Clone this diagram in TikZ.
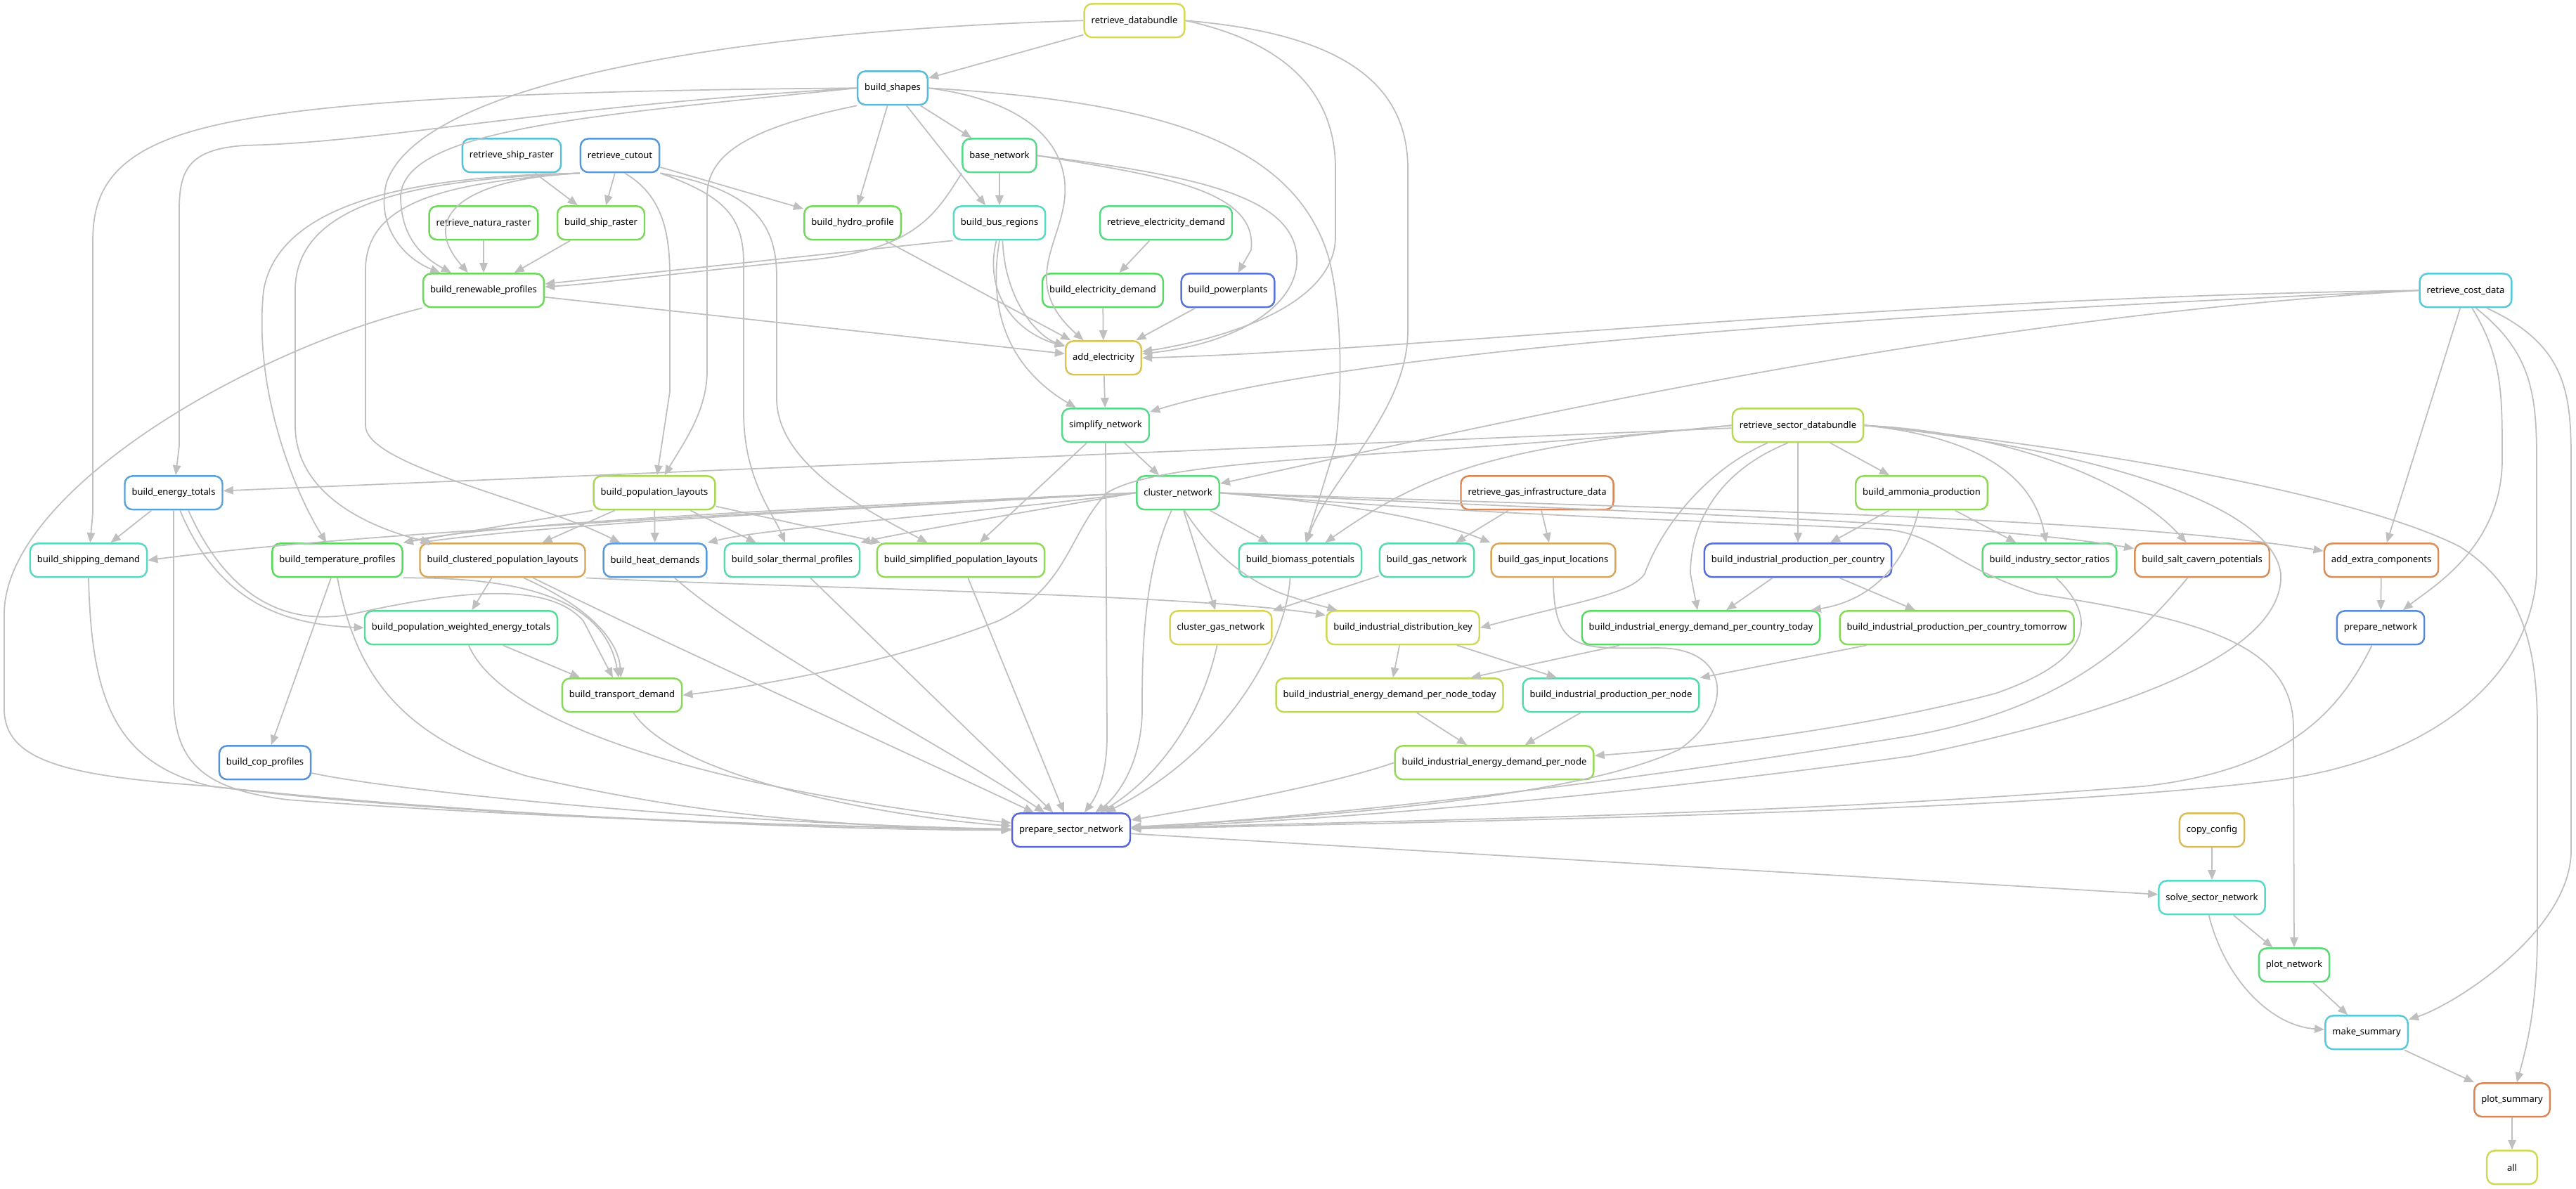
\documentclass[tikz,border=0pt]{standalone}
\usepackage{fontspec}
\usepackage{tikz}
\usetikzlibrary{arrows.meta}
\newfontfamily\rulefont{Noto Sans}

\begin{document}
\begin{tikzpicture}[x=2cm, y=-1.92cm,
  rulebox/.style={/utils/exec={\convertcolorspec{hsb}{#1,0.6,0.85}{rgb}\rulergb
      \definecolor{rulecol}{rgb}{\rulergb}},
    draw=rulecol, line width=1.4pt, rounded corners=0.22cm,
    minimum height=0.954cm, minimum width=1.434cm, inner xsep=0.2cm, inner ysep=0pt,
    font=\rulefont\fontsize{7.4}{9}\selectfont},
  dep/.style={draw=black!25, line width=1pt, -{Triangle[length=8pt,width=6.5pt]}}]
\useasboundingbox (0,-0.305) rectangle (36.65,17.31);

% rank 0 - 1
\node[rulebox=0.17] (rdb) at (16.14,0) {retrieve\_databundle};
\node[rulebox=0.54] (shapes) at (12.70,1) {build\_shapes};
% rank 2
\node[rulebox=0.53] (rship) at (7.28,2) {retrieve\_ship\_raster};
\node[rulebox=0.58] (cutout) at (8.82,2) {retrieve\_cutout};
\node[rulebox=0.40] (base) at (14.22,2) {base\_network};
% rank 3
\node[rulebox=0.31] (natura) at (6.88,3) {retrieve\_natura\_raster};
\node[rulebox=0.29] (shipr) at (8.55,3) {build\_ship\_raster};
\node[rulebox=0.30] (hydro) at (12.13,3) {build\_hydro\_profile};
\node[rulebox=0.47] (busreg) at (14.22,3) {build\_bus\_regions};
\node[rulebox=0.39] (relec) at (16.59,3) {retrieve\_electricity\_demand};
% rank 4
\node[rulebox=0.31] (renew) at (6.88,4) {build\_renewable\_profiles};
\node[rulebox=0.35] (elecd) at (15.69,4) {build\_electricity\_demand};
\node[rulebox=0.63] (ppl) at (17.47,4) {build\_powerplants};
\node[rulebox=0.52] (cost) at (35.08,4) {retrieve\_cost\_data};
% rank 5 - 6
\node[rulebox=0.14] (addel) at (15.70,5) {add\_electricity};
\node[rulebox=0.40] (simpl) at (15.73,6) {simplify\_network};
\node[rulebox=0.21] (rsec) at (25.58,6) {retrieve\_sector\_databundle};
% rank 7
\node[rulebox=0.57] (etot) at (2.47,7) {build\_energy\_totals};
\node[rulebox=0.23] (poplay) at (9.31,7) {build\_population\_layouts};
\node[rulebox=0.38] (clust) at (16.76,7) {cluster\_network};
\node[rulebox=0.06] (rgas) at (21.87,7) {retrieve\_gas\_infrastructure\_data};
\node[rulebox=0.26] (ammonia) at (27.34,7) {build\_ammonia\_production};
% rank 8
\node[rulebox=0.47] (shipd) at (1.26,8) {build\_shipping\_demand};
\node[rulebox=0.34] (temp) at (4.80,8) {build\_temperature\_profiles};
\node[rulebox=0.10] (clpop) at (7.15,8) {build\_clustered\_population\_layouts};
\node[rulebox=0.58] (heat) at (9.32,8) {build\_heat\_demands};
\node[rulebox=0.44] (solar) at (11.27,8) {build\_solar\_thermal\_profiles};
\node[rulebox=0.26] (sipop) at (13.67,8) {build\_simplified\_population\_layouts};
\node[rulebox=0.45] (biomass) at (18.50,8) {build\_biomass\_potentials};
\node[rulebox=0.44] (gasnet) at (20.30,8) {build\_gas\_network};
\node[rulebox=0.10] (gasin) at (22.10,8) {build\_gas\_input\_locations};
\node[rulebox=0.64] (ipc) at (25.58,8) {build\_industrial\_production\_per\_country};
\node[rulebox=0.38] (ratios) at (29.16,8) {build\_industry\_sector\_ratios};
\node[rulebox=0.07] (salt) at (31.33,8) {build\_salt\_cavern\_potentials};
\node[rulebox=0.07] (extra) at (33.88,8) {add\_extra\_components};
% rank 9
\node[rulebox=0.42] (pwet) at (6.56,9) {build\_population\_weighted\_energy\_totals};
\node[rulebox=0.16] (clgas) at (17.37,9) {cluster\_gas\_network};
\node[rulebox=0.18] (idk) at (19.96,9) {build\_industrial\_distribution\_key};
\node[rulebox=0.35] (iedct) at (24.20,9) {build\_industrial\_energy\_demand\_per\_country\_today};
\node[rulebox=0.27] (ipct) at (27.84,9) {build\_industrial\_production\_per\_country\_tomorrow};
\node[rulebox=0.60] (prepn) at (33.87,9) {prepare\_network};
% rank 10 - 11
\node[rulebox=0.27] (transp) at (8.85,10) {build\_transport\_demand};
\node[rulebox=0.20] (iednt) at (19.77,10) {build\_industrial\_energy\_demand\_per\_node\_today};
\node[rulebox=0.44] (ipn) at (22.92,10) {build\_industrial\_production\_per\_node};
\node[rulebox=0.59] (cop) at (3.77,11) {build\_cop\_profiles};
\node[rulebox=0.25] (iedn) at (21.26,11) {build\_industrial\_energy\_demand\_per\_node};
% rank 12 - 17
\node[rulebox=0.65] (psn) at (15.24,12) {prepare\_sector\_network};
\node[rulebox=0.13] (copy) at (31.47,12) {copy\_config};
\node[rulebox=0.48] (solve) at (31.47,13) {solve\_sector\_network};
\node[rulebox=0.37] (plotn) at (32.64,14) {plot\_network};
\node[rulebox=0.52] (summ) at (33.67,15) {make\_summary};
\node[rulebox=0.06] (plots) at (35.74,16) {plot\_summary};
\node[rulebox=0.18] (all) at (35.74,17) {all};

% databundle
\draw[dep] (rdb) -- (shapes);
\draw[dep] (rdb.west) .. controls (10.5,0.15) and (6.0,0.9) .. (5.5,2.4) .. controls (5.35,3.0) and (5.7,3.5) .. (renew);
\draw[dep] (rdb.east) .. controls (18.2,0.3) and (19.0,1.0) .. (19.0,2.2) -- (19.0,3.2) .. controls (19.0,4.2) and (17.5,4.7) .. (addel);
\draw[dep] (rdb.east) .. controls (19.2,0.2) and (20.03,1.0) .. (20.03,2.2) -- (20.03,4.6) .. controls (20.03,5.8) and (18.9,6.8) .. (biomass);

% shapes
\draw[dep] (shapes) -- (base);
\draw[dep] (shapes) -- (hydro);
\draw[dep] (shapes) -- (busreg);
\draw[dep] (shapes.west) .. controls (6,1.05) and (3.4,1.3) .. (2.3,1.8) .. controls (1.4,2.2) and (1.32,2.8) .. (1.32,3.3) -- (1.32,7.3) -- (shipd);
\draw[dep] (shapes.west) .. controls (7.5,1.3) and (5.5,1.8) .. (3.5,1.85) .. controls (2.7,1.9) and (2.55,2.2) .. (2.55,2.8) -- (2.55,6.3) -- (etot);
\draw[dep] (shapes.west) .. controls (8.5,1.4) and (5.75,1.6) .. (5.7,2.6) .. controls (5.7,3.2) and (6.0,3.5) .. (renew);
\draw[dep] (shapes.south west) .. controls (10.6,1.6) and (10.06,2.0) .. (10.06,2.6) -- (10.06,5.2) .. controls (10.06,5.8) and (9.7,6.3) .. (poplay);
\draw[dep] (shapes.east) .. controls (14.7,1.2) and (15.2,1.9) .. (15.15,2.6) .. controls (15.1,3.3) and (14.5,3.9) .. (addel);
\draw[dep] (shapes.east) .. controls (16.5,1.2) and (18.4,1.8) .. (18.9,3.5) .. controls (19.1,4.3) and (19.1,5.5) .. (19.0,6.3) -- (biomass);

% cutout and rasters
\draw[dep] (rship) -- (shipr);
\draw[dep] (cutout) -- (shipr);
\draw[dep] (natura) -- (renew);
\draw[dep] (shipr) -- (renew);
\draw[dep] (cutout) -- (hydro);
\draw[dep] (cutout.south west) .. controls (6.6,2.35) and (5.95,2.9) .. (renew);
\draw[dep] (cutout.south west) .. controls (6.5,2.3) and (4.0,2.5) .. (3.75,4.0) .. controls (3.6,5.5) and (4.2,7.0) .. (temp);
\draw[dep] (cutout.south west) .. controls (6.2,2.35) and (4.2,2.6) .. (4.2,4.0) -- (4.2,6.0) .. controls (4.2,7.0) and (5.2,7.5) .. (clpop);
\draw[dep] (cutout.south west) .. controls (6.3,2.4) and (5.2,2.7) .. (5.2,3.7) -- (5.2,6.0) .. controls (5.2,6.6) and (7.6,7.1) .. (heat);
\draw[dep] (cutout.-75) .. controls (9.45,2.6) and (9.53,3.2) .. (9.53,3.8) -- (9.53,5.5) -- (poplay);
\draw[dep] (cutout.south east) .. controls (10.3,2.6) and (10.58,2.9) .. (10.58,3.6) -- (10.58,5.8) .. controls (10.58,6.8) and (11.0,7.3) .. (solar);
\draw[dep] (cutout.south east) .. controls (10.7,2.5) and (11.05,3.0) .. (11.05,3.8) -- (11.05,5.6) .. controls (11.05,6.6) and (12.4,7.3) .. (sipop);

% electricity
\draw[dep] (base) -- (busreg);
\draw[dep] (base.east) .. controls (16.5,2.3) and (17.9,2.5) .. (17.8,3.4) -- (ppl);
\draw[dep] (base.east) .. controls (17.0,2.3) and (18.5,2.6) .. (18.45,3.6) .. controls (18.4,4.3) and (17.5,4.8) .. (addel);
\draw[dep] (base.south west) .. controls (13.3,2.9) and (13.0,3.4) .. (11.5,3.55) .. controls (10,3.7) and (8.5,3.9) .. (renew);
\draw[dep] (busreg.south west) -- (renew);
\draw[dep] (hydro) -- (addel);
\draw[dep] (busreg.-100) .. controls (14.0,4.0) and (14.4,4.6) .. (addel);
\draw[dep] (busreg.-80) .. controls (14.3,4.2) and (14.8,4.7) .. (addel);
\draw[dep] (busreg.-90) .. controls (14.0,4.6) and (14.6,5.3) .. (simpl);
\draw[dep] (relec) -- (elecd);
\draw[dep] (elecd) -- (addel);
\draw[dep] (ppl) -- (addel);
\draw[dep] (renew) -- (addel);
\draw[dep] (addel) -- (simpl);

% costs
\draw[dep] (cost.west) .. controls (27,4.1) and (20,4.9) .. (addel.east);
\draw[dep] (cost.west) .. controls (28,4.3) and (19.5,4.8) .. (simpl);
\draw[dep] (cost.west) .. controls (28,4.4) and (22,5.8) .. (clust);
\draw[dep] (cost) -- (extra);
\draw[dep] (cost.-70) .. controls (35.6,5.0) and (35.6,5.5) .. (35.6,6.5) .. controls (35.6,7.8) and (34.6,8.4) .. (prepn);
\draw[dep] (cost.-60) .. controls (36.0,4.9) and (36.09,5.5) .. (36.09,6.5) -- (36.09,8.2) .. controls (36.0,9.8) and (34.5,11.0) .. (32.3,11.27) .. controls (29,11.7) and (22,11.85) .. (psn);
\draw[dep] (cost.-40) .. controls (36.5,4.8) and (36.58,5.5) .. (36.58,6.5) -- (36.58,12.3) .. controls (36.58,13.5) and (34.9,14.6) .. (summ);
\draw[dep] (extra) -- (prepn);
\draw[dep] (prepn) .. controls (33.3,10.2) and (32.6,11.1) .. (30.5,11.35) .. controls (25,11.8) and (20,11.85) .. (psn);

% simplify and cluster
\draw[dep] (simpl) -- (clust);
\draw[dep] (simpl) -- (sipop);
\draw[dep] (simpl.south) -- (15.75,10.6) .. controls (15.75,11.2) and (15.6,11.5) .. (psn);
\draw[dep] (clust) -- (biomass);
\draw[dep] (clust) -- (clgas);
\draw[dep] (clust.-110) .. controls (16.25,8.2) and (16.25,9.5) .. (16.25,10.2) .. controls (16.25,11.0) and (15.9,11.5) .. (psn);
\draw[dep] (clust.-70) .. controls (17.3,8.0) and (17.9,8.4) .. (18.4,8.55) .. controls (18.6,8.62) .. (idk);
\draw[dep] (clust.west) .. controls (10,7.35) and (5,7.6) .. (shipd.east);
\draw[dep] (clust.west) .. controls (12,7.2) and (7,7.45) .. (temp.north east);
\draw[dep] (clust.west) .. controls (12,7.25) and (8,7.45) .. (clpop.north west);
\draw[dep] (clust.west) .. controls (14,7.3) and (11,7.5) .. (heat.north east);
\draw[dep] (clust.west) .. controls (14.5,7.3) and (12.8,7.6) .. (solar.north east);
\draw[dep] (clust.east) .. controls (19,7.15) and (20.3,7.35) .. (gasin.north west);
\draw[dep] (clust.east) .. controls (22,7.25) and (28,7.4) .. (salt);
\draw[dep] (clust.east) .. controls (24,7.25) and (30,7.35) .. (extra);
\draw[dep] (clust.east) .. controls (21,7.35) and (25.5,7.45) .. (26.9,7.55) .. controls (27.6,7.65) and (27.8,8.1) .. (29.0,8.5) .. controls (31.5,8.9) and (32.63,9.3) .. (32.63,10.5) -- (plotn);
\draw[dep] (clpop.south east) .. controls (11,8.4) and (17,8.5) .. (idk);
\draw[dep] (gasnet) -- (clgas);
\draw[dep] (clgas) .. controls (17.1,10.3) and (16.5,11.2) .. (psn);
\draw[dep] (biomass.-120) .. controls (18.3,9.2) and (17.5,10.8) .. (psn);

% gas
\draw[dep] (rgas) -- (gasnet);
\draw[dep] (rgas) -- (gasin);
\draw[dep] (gasin) .. controls (22.1,9.4) and (22.5,9.3) .. (23.6,9.3) .. controls (24.6,9.3) and (24.7,10.2) .. (23.9,10.8) .. controls (22.5,11.5) and (19,11.8) .. (psn);

% sector databundle
\draw[dep] (rsec) -- (etot);
\draw[dep] (rsec.west) .. controls (20,6.5) and (16.6,6.45) .. (15.75,7.0) .. controls (15.2,7.6) and (15.2,8.4) .. (14.2,8.9) .. controls (12.5,9.6) and (10.5,9.9) .. (transp.east);
\draw[dep] (rsec.west) .. controls (21.5,6.3) and (20.4,6.6) .. (biomass);
\draw[dep] (rsec.-150) .. controls (24.2,6.7) and (23.6,7.6) .. (23.4,8.2) .. controls (23.2,8.5) and (22.5,8.6) .. (idk.east);
\draw[dep] (rsec.-120) .. controls (24.4,6.7) and (24.05,7.5) .. (24.05,8.2) -- (iedct);
\draw[dep] (rsec) -- (ipc);
\draw[dep] (rsec) -- (ammonia);
\draw[dep] (rsec.east) .. controls (27.9,6.15) and (28.9,6.6) .. (ratios);
\draw[dep] (rsec.east) .. controls (28.5,6.1) and (30.3,6.8) .. (salt);
\draw[dep] (rsec.east) .. controls (29.0,6.25) and (32.3,7.0) .. (32.45,8.2) .. controls (32.5,9.3) and (30.5,10.2) .. (27.2,10.9) .. controls (23,11.5) and (19,11.85) .. (psn);
\draw[dep] (rsec.east) .. controls (29.5,6.3) and (33.5,7.0) .. (35.0,7.8) .. controls (35.9,8.4) and (36.1,9.3) .. (36.1,10.5) -- (36.1,13.5) .. controls (36.1,14.6) and (35.95,15.2) .. (plots);

% industry
\draw[dep] (ammonia) -- (ipc);
\draw[dep] (ammonia) -- (ratios);
\draw[dep] (ammonia.-100) .. controls (27.1,8.1) and (26.6,8.6) .. (iedct);
\draw[dep] (ipc) -- (iedct);
\draw[dep] (ipc) -- (ipct);
\draw[dep] (iedct) -- (iednt);
\draw[dep] (ipct) -- (ipn);
\draw[dep] (idk) -- (iednt);
\draw[dep] (idk) -- (ipn);
\draw[dep] (iednt) -- (iedn);
\draw[dep] (ipn) -- (iedn);
\draw[dep] (ratios.-70) .. controls (29.9,8.9) and (29.7,9.5) .. (28.4,9.97) .. controls (26.5,10.5) and (24,10.8) .. (iedn);
\draw[dep] (salt) .. controls (30.3,9.3) and (29.3,10.2) .. (27.2,10.6) .. controls (23,11.3) and (19,11.8) .. (psn);
\draw[dep] (iedn.west) .. controls (19,11.3) and (17.5,11.6) .. (psn);

% population, heat and transport
\draw[dep] (poplay) -- (clpop);
\draw[dep] (poplay) -- (heat);
\draw[dep] (poplay) -- (solar);
\draw[dep] (poplay) -- (sipop);
\draw[dep] (poplay.south west) -- (temp.north east);
\draw[dep] (etot) -- (shipd);
\draw[dep] (etot.-70) .. controls (3.1,8.6) and (4.0,8.95) .. (pwet.west);
\draw[dep] (etot.-50) .. controls (3.3,8.7) and (4.2,8.95) .. (5.0,8.8) .. controls (6.5,8.45) and (7.8,8.3) .. (8.3,8.9) -- (transp);
\draw[dep] (temp) -- (cop);
\draw[dep] (temp.south east) .. controls (7.5,8.25) and (8.6,8.6) .. (transp);
\draw[dep] (clpop) -- (pwet);
\draw[dep] (clpop.-40) .. controls (8.4,8.7) and (8.8,9.2) .. (transp);
\draw[dep] (pwet) -- (transp);

% into prepare_sector_network
\draw[dep] (renew.south west) .. controls (3.5,4.9) and (0.06,7.0) .. (0.06,8.8) -- (0.06,10.2) .. controls (0.06,11.0) and (1.0,11.2) .. (3,11.35) .. controls (6,11.7) and (11,12) .. (psn);
\draw[dep] (shipd.south) .. controls (1.3,10.0) and (1.6,11.0) .. (3,11.35) .. controls (6,11.75) and (11,11.95) .. (psn);
\draw[dep] (etot.south) -- (2.47,10.1) .. controls (2.5,11.0) and (2.9,11.4) .. (4.1,11.55) .. controls (8,11.85) and (12,11.95) .. (psn);
\draw[dep] (cop) .. controls (5.5,11.4) and (10,11.9) .. (psn);
\draw[dep] (temp.south) .. controls (5.05,9.6) and (5.6,10.6) .. (7.5,11.2) .. controls (10,11.8) and (12,11.95) .. (psn);
\draw[dep] (pwet) .. controls (7.1,10.3) and (9.5,11.3) .. (psn);
\draw[dep] (transp) .. controls (9.6,11.2) and (12.5,11.8) .. (psn);
\draw[dep] (clpop.-30) .. controls (9.6,9.3) and (12.8,10.8) .. (psn);
\draw[dep] (heat) .. controls (10.6,9.2) and (13.5,10.8) .. (psn);
\draw[dep] (solar) -- (psn);
\draw[dep] (sipop) -- (psn);

% solving and summaries
\draw[dep] (psn) -- (solve);
\draw[dep] (copy) -- (solve);
\draw[dep] (solve) -- (plotn);
\draw[dep] (solve.-100) .. controls (31.65,14.2) and (32.3,14.9) .. (summ);
\draw[dep] (plotn) -- (summ);
\draw[dep] (summ) -- (plots);
\draw[dep] (plots) -- (all);
\end{tikzpicture}
\end{document}
